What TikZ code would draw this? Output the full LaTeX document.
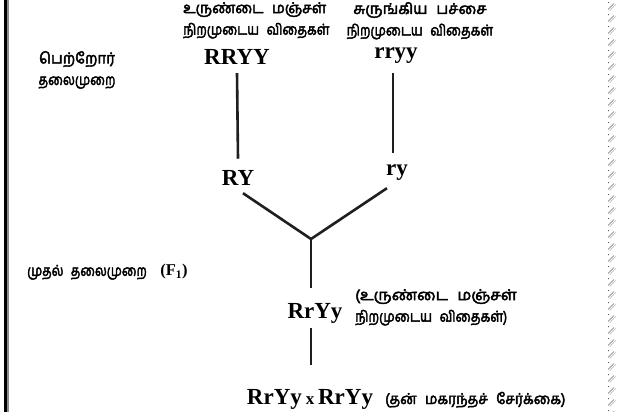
\documentclass[tikz,border=0pt]{standalone}
\usepackage{graphicx}
\usepackage{fontspec}
\setmainfont{Liberation Serif}
\newfontfamily\ta[Script=Tamil, FakeBold=3]{Hind Madurai}

\tikzset{
  tam/.style={font=\ta\fontsize{15}{21.5}\selectfont, inner sep=0pt},
  geno/.style={font=\bfseries\fontsize{23}{26}\selectfont, inner sep=0pt, anchor=base},
  link/.style={line width=2.6pt, draw=black!88},
}
\newcommand\wsp{\hspace{0.6em}}
% horizontally condensed line of text
\newcommand\cond[2]{\scalebox{#1}[1]{#2}}

\begin{document}
\begin{tikzpicture}[x=1pt, y=-1pt]
  % page
  \fill[white] (0,0) rectangle (618,412);
  \useasboundingbox (0,0) rectangle (618,412);

  % left frame rule
  \fill[black] (4,0) rectangle (7.2,412);
  \fill[black!45] (7.2,0) rectangle (9.4,412);

  % right hatched margin
  \foreach \y in {0,12,...,408} {
    \draw[black!60, line width=0.6pt] (608,\y+9.5) -- (614,\y+3.5);
    \draw[black!30, line width=0.6pt] (609.8,\y+10.5) -- (615.6,\y+4.6);
    \fill[black!70] (608.6,\y+2.6) circle (0.55);
  }

  % parent seed descriptions
  \node[tam, align=left, anchor=north west] (descL) at (183,2)
    {\cond{0.95}{உருண்டை\wsp மஞ்சள்}\\\cond{0.84}{நிறமுடைய\wsp விதைகள்}};
  \node[tam, align=center, anchor=north] (descR) at (420,2)
    {\cond{1.0}{சுருங்கிய\wsp பச்சை}\\\cond{0.84}{நிறமுடைய\wsp விதைகள்}};

  % generation labels
  \node[tam, align=center] (parentgen) at (77,70)
    {பெற்றோர்\\\cond{0.83}{தலைமுறை}};
  \node[tam, anchor=west] (firstgen) at (27,272)
    {\cond{0.82}{முதல்\wsp தலைமுறை}\hspace{0.9em}{\rmfamily\bfseries\fontsize{16.5}{20}\selectfont (F\textsubscript{1})}};

  % genotypes
  \node[geno] (RRYY) at (237,65) {RRYY};
  \node[geno] (rryy) at (396,59) {rryy};
  \node[geno] (RY)   at (238,185) {RY};
  \node[geno] (ry)   at (397,175) {ry};
  \node[geno] (F1)   at (315,318) {RrYy};
  \node[geno] (self) at (310,404) {RrYy\,{\fontsize{17}{20}\selectfont x}\,RrYy};

  \node[tam, align=left, anchor=north west] (descF1) at (355,289)
    {\cond{1.04}{(உருண்டை\wsp மஞ்சள்}\\\cond{0.85}{நிறமுடைய\wsp விதைகள்)}};
  \node[tam, anchor=base west] (selfnote) at (385,404)
    {\cond{0.93}{(தன்\wsp மகரந்தச்\wsp சேர்க்கை)}};

  % junction where the gametes meet
  \coordinate (J) at (311,239);

  % connectors
  \draw[link] ([yshift=-8pt]RRYY.south) -- ([yshift=11pt]RY.north);
  \draw[link] ([xshift=-3pt,yshift=-9pt]rryy.south) -- ([xshift=-4pt,yshift=11pt]ry.north);
  \draw[link] ([xshift=5pt,yshift=-8pt]RY.south) -- (J);
  \draw[link] ([xshift=-10pt,yshift=-8pt]ry.south) -- (J);
  \draw[link] (J) -- ([yshift=15pt]J |- F1.north);
  \draw[link] ([yshift=-5pt]J |- F1.south) -- ([yshift=24pt]J |- self.north);
\end{tikzpicture}
\end{document}
